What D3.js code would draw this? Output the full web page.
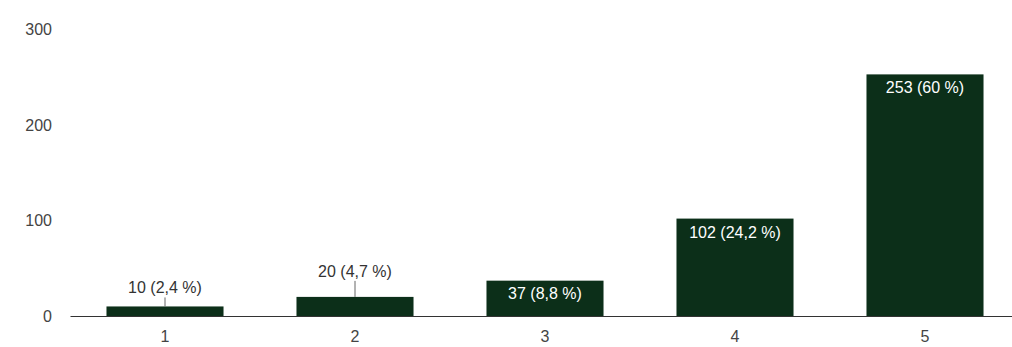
<!DOCTYPE html>
<html>
<head>
<meta charset="utf-8">
<script src="https://cdn.jsdelivr.net/npm/d3@7"></script>
<style>
  body { margin: 0; background: #fff; }
  svg { display: block; font-family: Arial, "Liberation Sans", sans-serif; }
</style>
</head>
<body>
<svg id="chart" width="1012" height="347"></svg>
<script>
const categories = ["1", "2", "3", "4", "5"];
const counts = [10, 20, 37, 102, 253];
const labels = ["10 (2,4 %)", "20 (4,7 %)", "37 (8,8 %)", "102 (24,2 %)", "253 (60 %)"];
const yTicks = [0, 100, 200, 300];

const svg = d3.select('#chart');
const barColor = '#0c2f19';
const fontSize = '16px';

const xScale = d3.scaleBand()
  .domain(categories)
  .range([70, 1020])
  .paddingInner(0.384)
  .paddingOuter(0.192);

const yScale = d3.scaleLinear()
  .domain([0, 300])
  .range([316, 29.5]);

// y tick labels (no visible gridlines)
svg.append('g')
  .selectAll('text')
  .data(yTicks)
  .enter()
  .append('text')
  .attr('x', 52)
  .attr('y', d => yScale(d))
  .attr('dy', '0.35em')
  .attr('text-anchor', 'end')
  .attr('fill', '#444')
  .style('font-size', fontSize)
  .text(d => d);

// bars
svg.selectAll('rect.bar').data(counts)
  .enter()
  .append('rect')
  .attr('class', 'bar')
  .attr('x', (d, i) => xScale(categories[i]))
  .attr('y', d => yScale(d))
  .attr('width', xScale.bandwidth())
  .attr('height', d => yScale(0) - yScale(d))
  .attr('fill', barColor);

// baseline
const xAxis = d3.axisBottom(xScale).tickSize(0).tickPadding(15);
const gx = svg.append('g')
  .attr('transform', 'translate(0,' + yScale(0) + ')')
  .call(xAxis);
gx.select('.domain').attr('stroke', '#333').attr('stroke-width', 1.2);
gx.selectAll('text')
  .attr('fill', '#444')
  .style('font-size', fontSize)
  .style('font-family', 'Arial, "Liberation Sans", sans-serif');

// value labels: inside bar if there is room, else above with a leader line
const leader = [9, 16];
counts.forEach((d, i) => {
  const cx = xScale(categories[i]) + xScale.bandwidth() / 2;
  const top = yScale(d);
  const h = yScale(0) - top;
  if (h > 30) {
    svg.append('text')
      .attr('x', cx)
      .attr('y', top + (h > 60 ? 19 : 18))
      .attr('text-anchor', 'middle')
      .attr('fill', '#fff')
      .style('font-size', fontSize)
      .text(labels[i]);
  } else {
    const len = leader[i] || 10;
    svg.append('line')
      .attr('x1', cx).attr('x2', cx)
      .attr('y1', top).attr('y2', top - len)
      .attr('stroke', '#666')
      .attr('stroke-width', 1);
    svg.append('text')
      .attr('x', cx)
      .attr('y', top - len - 4)
      .attr('text-anchor', 'middle')
      .attr('fill', '#333')
      .style('font-size', fontSize)
      .text(labels[i]);
  }
});
</script>
</body>
</html>
